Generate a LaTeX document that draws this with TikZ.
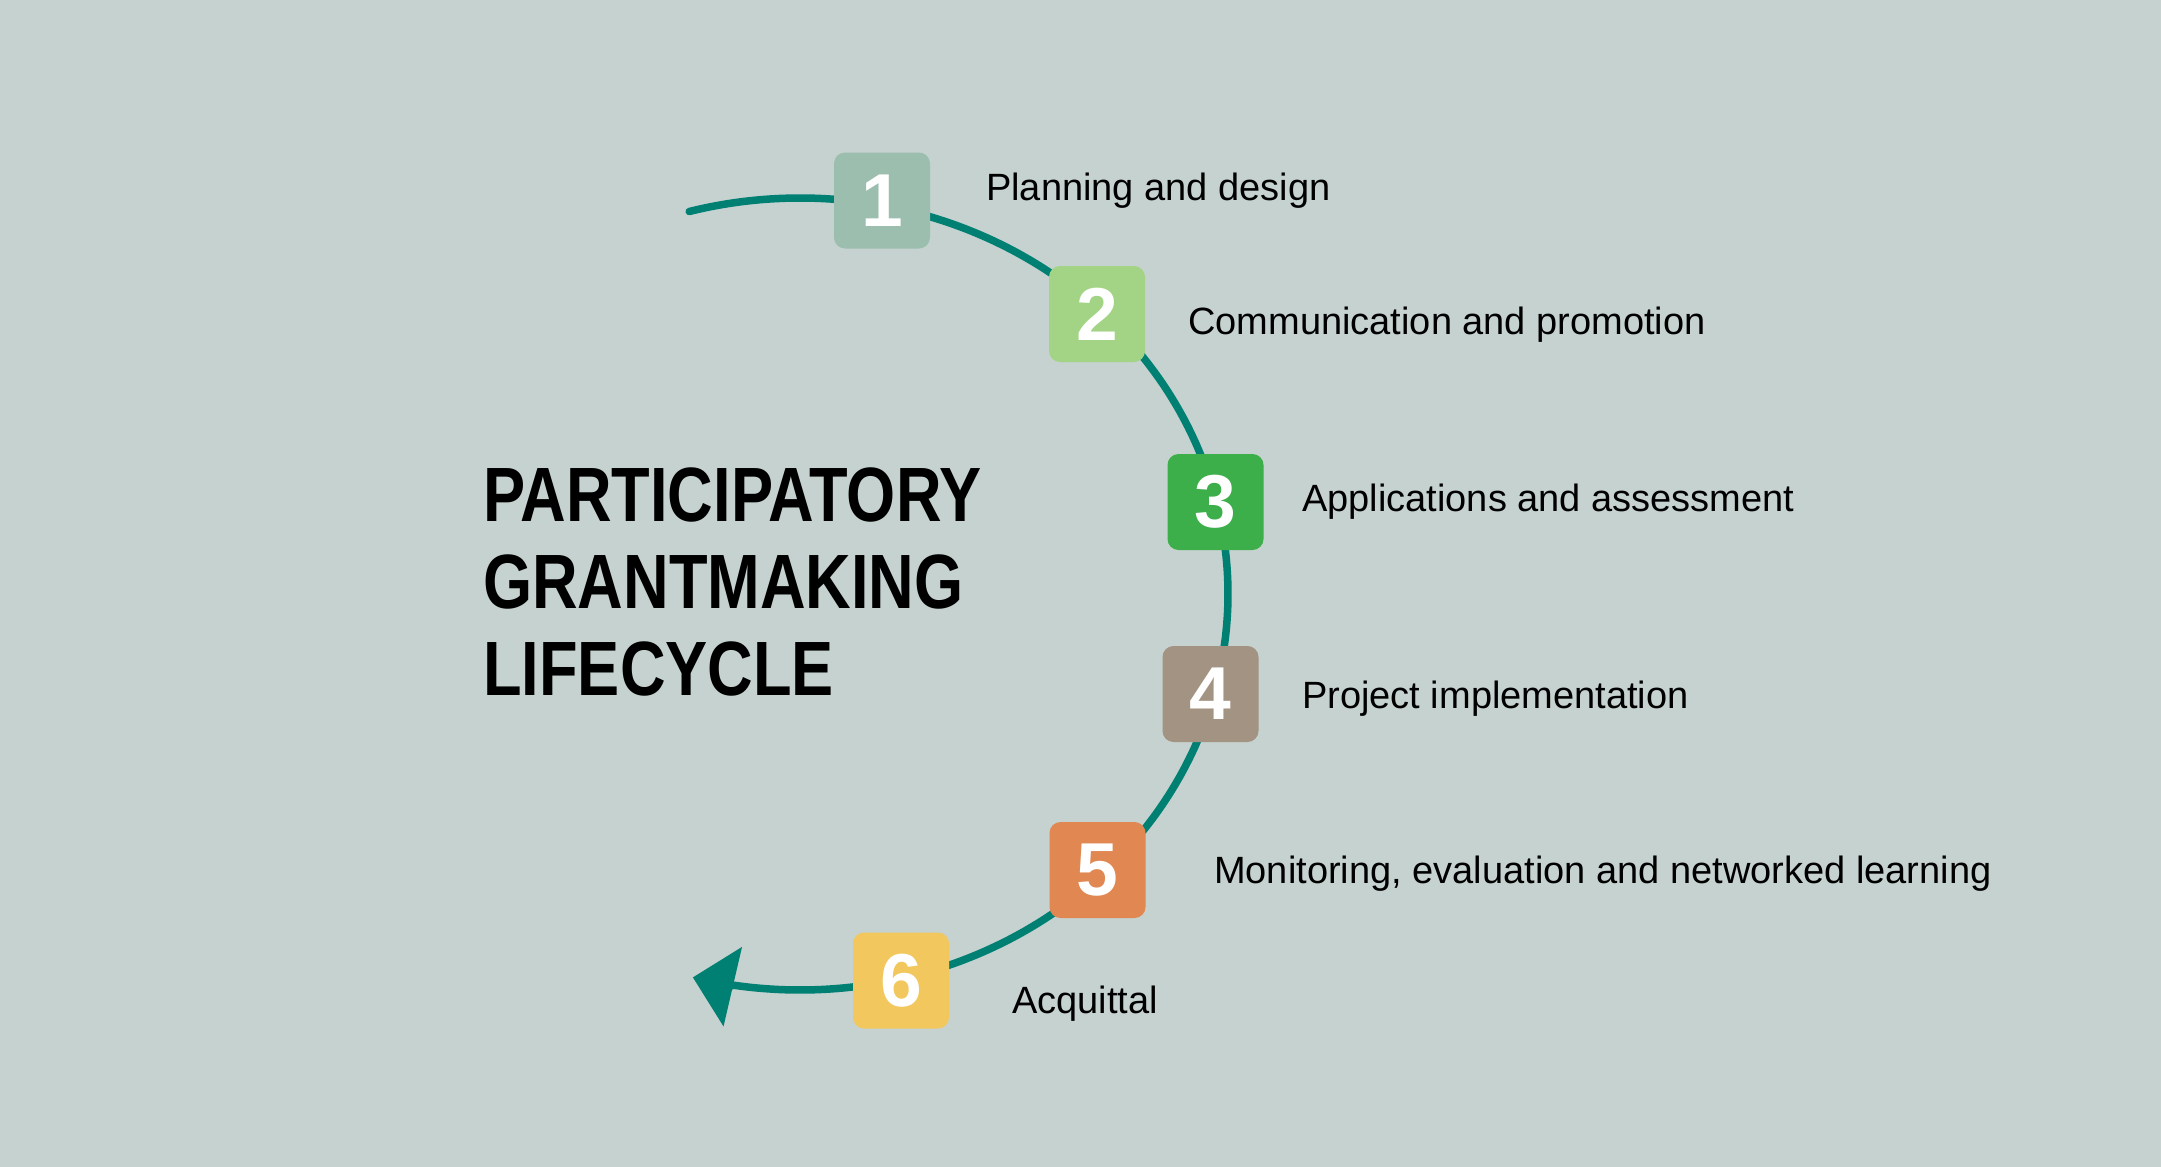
\documentclass[tikz,border=0pt]{standalone}
\usepackage{fontspec}
\setmainfont{Liberation Sans}
\newfontfamily\titlefont[FakeStretch=0.82]{Liberation Sans Bold}
\newfontfamily\digitfont{Liberation Sans Bold}
\usetikzlibrary{arrows.meta}
\definecolor{bgc}{RGB}{197,210,207}
\definecolor{linec}{RGB}{0,128,115}
\definecolor{c1}{RGB}{155,190,174}
\definecolor{c2}{RGB}{163,212,133}
\definecolor{c3}{RGB}{60,174,74}
\definecolor{c4}{RGB}{163,147,130}
\definecolor{c5}{RGB}{224,135,82}
\definecolor{c6}{RGB}{242,200,94}
\tikzset{
  numbox/.style={rounded corners=11pt, minimum width=96pt, minimum height=96pt,
    inner sep=0pt, text=white, font=\digitfont\fontsize{75}{80}\selectfont},
  lbl/.style={anchor=base west, inner sep=0pt, text=black,
    font=\fontsize{38}{44}\selectfont},
  ttl/.style={anchor=base west, inner sep=0pt, text=black,
    font=\titlefont\fontsize{77}{87}\selectfont},
  cycleline/.style={draw=linec, line width=7.5pt, line cap=round}
}
\begin{document}
\begin{tikzpicture}[x=1pt,y=-1pt]
\fill[bgc] (0,0) rectangle (2161,1167);
\useasboundingbox (0,0) rectangle (2161,1167);
% cycle arc with arrow
\draw[cycleline, -{Triangle[length=41pt,width=80pt]}]
  plot[domain=255:464.5, samples=150, smooth] ({800+428*cos(\x)},{594+396*sin(\x)});
% step boxes
\node[numbox, fill=c1] (b1) at (882,200.5) {1};
\node[numbox, fill=c2] (b2) at (1097,314) {2};
\node[numbox, fill=c3] (b3) at (1215.5,502) {3};
\node[numbox, fill=c4] (b4) at (1210.5,694) {4};
\node[numbox, fill=c5] (b5) at (1097.5,870) {5};
\node[numbox, fill=c6] (b6) at (901,980.5) {6};
% labels
\node[lbl] (l1) at (986,200) {Planning and design};
\node[lbl] (l2) at (1188,334) {Communication and promotion};
\node[lbl] (l3) at (1302,511) {Applications and assessment};
\node[lbl] (l4) at (1302,708) {Project implementation};
\node[lbl] (l5) at (1214,883) {Monitoring, evaluation and networked learning};
\node[lbl] (l6) at (1012,1013) {Acquittal};
% title
\node[ttl] (t1) at (483,521) {PARTICIPATORY};
\node[ttl] (t2) at (483,608) {GRANTMAKING};
\node[ttl] (t3) at (483,695) {LIFECYCLE};
\end{tikzpicture}
\end{document}
